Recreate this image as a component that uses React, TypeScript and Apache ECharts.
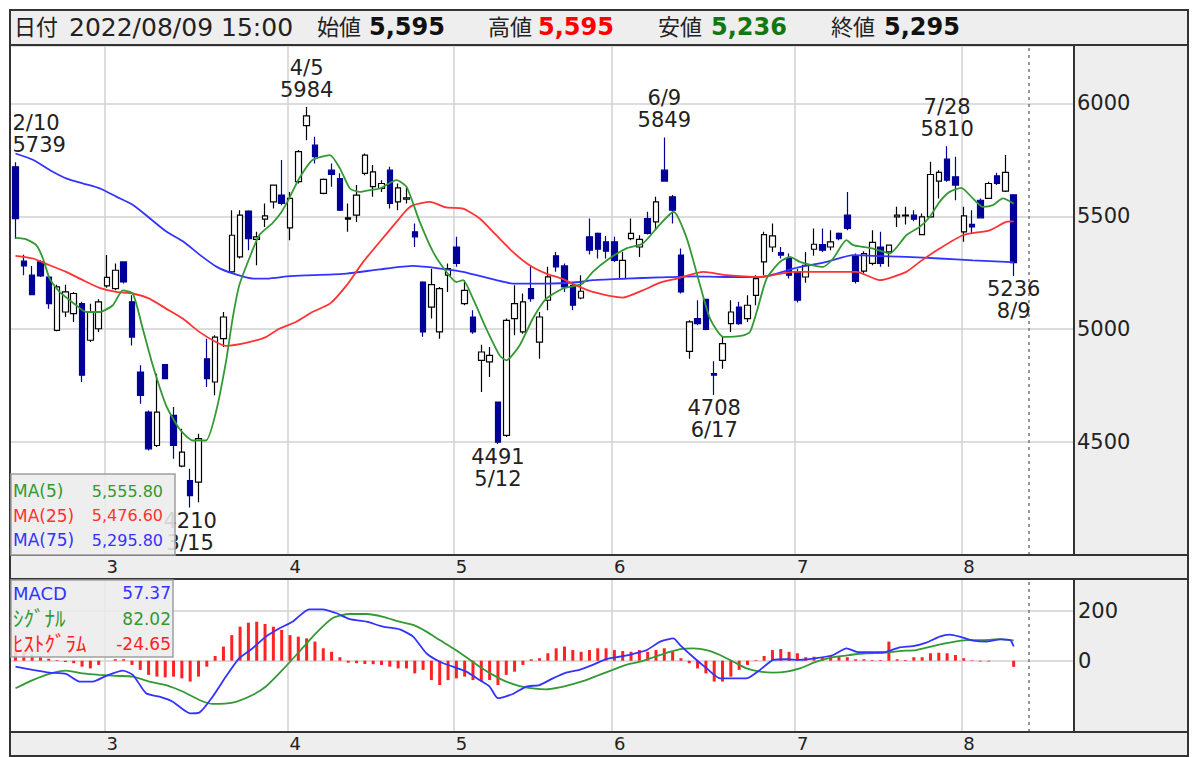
import React, { useEffect, useRef } from 'react';
import * as echarts from 'echarts';

const FONT = "'DejaVu Sans', 'Noto Sans CJK JP', sans-serif";

// ---------- data ----------
const dates = [
  '2/10','2/14','2/15','2/16','2/17','2/18','2/21','2/22','2/24','2/25','2/28',
  '3/1','3/2','3/3','3/4','3/7','3/8','3/9','3/10','3/11','3/14','3/15','3/16','3/17','3/18','3/22','3/23','3/24','3/25','3/28','3/29','3/30','3/31',
  '4/1','4/4','4/5','4/6','4/7','4/8','4/11','4/12','4/13','4/14','4/15','4/18','4/19','4/20','4/21','4/22','4/25','4/26','4/27','4/28',
  '5/2','5/6','5/9','5/10','5/11','5/12','5/13','5/16','5/17','5/18','5/19','5/20','5/23','5/24','5/25','5/26','5/27','5/30','5/31',
  '6/1','6/2','6/3','6/6','6/7','6/8','6/9','6/10','6/13','6/14','6/15','6/16','6/17','6/20','6/21','6/22','6/23','6/24','6/27','6/28','6/29','6/30',
  '7/1','7/4','7/5','7/6','7/7','7/8','7/11','7/12','7/13','7/14','7/15','7/19','7/20','7/21','7/22','7/25','7/26','7/27','7/28','7/29',
  '8/1','8/2','8/3','8/4','8/5','8/8','8/9'
];

const opens = [
  5719,5301,5239,5298,5231,4995,5076,5069,5113,4951,5002,
  5192,5180,5298,5121,4810,4633,4485,4843,4618,4394,4330,4323,4869,4766,4958,5254,5320,5523,5398,5487,5564,5594,
  5449,5653,5901,5815,5601,5704,5667,5487,5505,5690,5631,5623,5704,5564,5576,5431,5209,5098,4988,5239,
  5364,5113,5054,4862,4855,4677,4530,5047,4988,5180,4943,5128,5325,5280,5194,5138,5409,5424,5387,
  5387,5224,5401,5364,5490,5475,5704,5586,5328,4902,5047,5132,4803,4862,5025,5098,5047,5150,5298,5364,5339,5313,
  5254,5231,5354,5375,5364,5424,5505,5325,5257,5291,5364,5342,5497,5502,5505,5419,5497,5656,5753,5675,
  5431,5464,5571,5579,5679,5611,5595
];
const highs = [
  5739,5330,5280,5305,5235,5197,5197,5165,5121,5113,5132,
  5328,5291,5300,5150,4840,4640,4803,4843,4655,4559,4382,4537,4958,4973,5076,5527,5527,5527,5431,5557,5641,5749,
  5608,5793,5984,5852,5667,5734,5690,5557,5638,5778,5727,5660,5719,5645,5631,5468,5212,5268,5187,5291,
  5409,5217,5084,4931,4921,4680,5047,5194,5158,5276,5076,5276,5342,5291,5202,5239,5490,5428,5413,
  5409,5342,5490,5416,5520,5586,5849,5594,5357,5039,5128,5135,4858,4966,5128,5121,5150,5239,5431,5468,5364,5335,
  5268,5342,5446,5446,5438,5428,5608,5335,5345,5438,5431,5375,5542,5542,5527,5512,5741,5704,5810,5764,
  5542,5527,5579,5653,5693,5771,5595
];
const lows = [
  5401,5239,5150,5231,5091,4991,5054,5032,4766,4943,4988,
  5183,5172,5202,4928,4670,4463,4478,4781,4426,4389,4210,4234,4744,4707,4921,5246,5313,5350,5283,5453,5534,5549,
  5394,5645,5837,5734,5597,5631,5523,5431,5475,5682,5586,5608,5534,5527,5557,5364,4966,5047,4958,5165,
  5276,5106,4980,4722,4788,4491,4522,4973,4980,5121,4869,5084,5254,5165,5084,5132,5331,5313,5313,
  5298,5221,5394,5320,5419,5438,5653,5468,5158,4869,5017,4995,4708,4825,4988,5020,5032,5106,5239,5342,5313,5224,
  5118,5206,5325,5342,5350,5394,5438,5202,5246,5283,5276,5276,5453,5464,5478,5416,5493,5579,5653,5571,
  5387,5424,5490,5576,5638,5608,5236
];
const closes = [
  5490,5280,5153,5236,5113,5187,5165,5158,4796,5076,5121,
  5229,5261,5209,4965,4707,4470,4633,4781,4485,4456,4263,4515,4781,4965,5054,5416,5505,5401,5409,5502,5638,5557,
  5579,5786,5945,5764,5663,5685,5527,5493,5594,5771,5697,5645,5557,5626,5582,5409,4988,5197,5180,5268,
  5291,5172,4988,4899,4884,4500,5039,5113,5121,5135,5054,5232,5276,5187,5106,5168,5350,5354,5345,
  5305,5305,5424,5398,5424,5564,5656,5527,5165,5032,5025,4999,4796,4936,5076,5025,5106,5224,5419,5413,5328,5239,
  5128,5283,5376,5350,5387,5401,5446,5212,5335,5384,5291,5372,5505,5505,5487,5497,5685,5694,5660,5638,
  5502,5453,5493,5645,5645,5694,5295
];

// moving averages: [trading-day index, value]
const ma5 = [
  [0,5404],[1.3,5398],[2.5,5372],[3.3,5313],[4.1,5224],[5.3,5165],[7.3,5106],[8.5,5076],[10.1,5076],[11.7,5106],
  [12.9,5172],[14.1,5158],[15.3,5002],[16.5,4840],[18.1,4663],[19.7,4559],[21.3,4507],[22.9,4507],[24.1,4633],
  [25.3,4855],[26.1,5047],[26.9,5194],[28.1,5313],[29.3,5416],[30.9,5470],[32.0,5520],[32.9,5579],[34.1,5667],
  [35.7,5749],[37.8,5771],[39.0,5712],[40.2,5623],[41.4,5608],[42.6,5616],[43.8,5623],[45.8,5660],[47.0,5631],
  [48.6,5475],[50.2,5342],[51.8,5254],[53.0,5209],[53.8,5217],[55.0,5135],[56.6,5002],[58.2,4884],[59.0,4862],
  [60.6,4928],[62.2,5047],[63.8,5135],[65.8,5180],[67.0,5190],[68.2,5202],[69.4,5254],[71.4,5313],[73.4,5357],
  [75.4,5379],[77.4,5461],[79.1,5520],[80.7,5402],[82.3,5194],[83.5,5047],[85.1,4966],[87.5,4973],[88.3,4988],
  [89.1,5076],[90.3,5224],[91.9,5298],[93.1,5320],[94.3,5298],[95.9,5283],[97.1,5276],[98.3,5313],[99.9,5394],
  [100.7,5372],[101.9,5364],[103.1,5357],[105.1,5335],[107.1,5416],[108.7,5453],[109.9,5497],[111.1,5564],
  [112.3,5608],[113.7,5626],[115.1,5579],[116.3,5542],[117.5,5549],[118.7,5579],[120,5556]
];
const ma25 = [
  [0,5325],[2.1,5313],[4.1,5283],[6.1,5254],[8.1,5217],[10.1,5183],[12.1,5165],[14.1,5158],[16.1,5135],[18.1,5091],
  [20.1,5047],[22.1,4988],[24.1,4943],[25.3,4926],[28.1,4943],[30.1,4965],[31.7,5002],[33.7,5032],[35.7,5076],
  [37.8,5113],[39.8,5194],[41.8,5298],[43.8,5387],[45.8,5475],[47.0,5527],[47.8,5549],[49.8,5564],[51.8,5539],
  [53.8,5534],[55.8,5490],[57.8,5416],[59.8,5342],[61.8,5283],[63.8,5246],[65.6,5225],[67.4,5194],[69.4,5165],
  [73.0,5140],[75.4,5172],[77.5,5206],[79.5,5224],[82.7,5254],[85.5,5239],[89.5,5231],[93.5,5254],[97.5,5254],
  [101.1,5254],[103.9,5217],[107.1,5254],[108.7,5298],[111.1,5357],[113.9,5416],[117.1,5438],[119.1,5475],[120,5477]
];
const ma75 = [
  [0,5778],[2.15,5749],[4.15,5704],[6.16,5667],[8.16,5645],[10.16,5623],[12.17,5586],[14.17,5549],[16.18,5490],
  [18.18,5431],[20.2,5387],[22.2,5328],[24.2,5276],[26.2,5246],[28.6,5224],[30.2,5224],[33.0,5235],[35.7,5239],
  [39.8,5246],[43.8,5265],[47.8,5280],[51.8,5265],[53.8,5254],[57.8,5217],[59.8,5202],[63.8,5202],[67.8,5209],
  [69.4,5217],[73.4,5224],[77.4,5229],[81.5,5234],[85.5,5231],[89.5,5231],[91.5,5246],[93.5,5268],[97.5,5298],
  [100.7,5328],[103.1,5325],[107.1,5320],[111.1,5313],[115.1,5305],[119.1,5298],[120,5296]
];

const macdLine = [
  [0,-24],[2.07,-37],[4.07,-48],[6.08,-53],[7.68,-84],[9.28,-84],[10.9,-61],[12.9,-40],[14.1,-57],[15.7,-131],
  [17.3,-145],[18.9,-165],[21.0,-212],[22.1,-209],[23.7,-145],[25.3,-64],[26.9,10],[28.5,50],[30.1,97],[31.7,130],
  [33.3,157],[35.3,207],[36.9,207],[38.6,191],[40.2,167],[42.2,157],[44.2,137],[46.2,126],[47.8,97],[49.4,30],
  [51.0,-4],[52.6,-24],[54.2,-44],[55.8,-78],[57.0,-104],[58.0,-151],[59.8,-134],[61.4,-104],[63.0,-98],[64.6,-71],
  [66.2,-48],[67.8,-37],[69.4,-17],[71.0,6],[72.6,16],[74.2,27],[75.9,43],[77.5,77],[79.1,90],[79.9,63],[81.5,14],
  [83.1,-31],[84.7,-71],[86.3,-71],[87.9,-71],[89.5,-37],[91.1,3],[92.7,6],[94.3,3],[96.3,10],[98.3,23],[99.9,50],
  [101.1,36],[103.1,34],[104.7,36],[106.3,54],[107.9,59],[109.5,73],[111.1,97],[112.3,105],[113.5,97],[115.1,81],
  [116.8,77],[118.4,86],[119.6,83],[120,57]
];
const signalLine = [
  [0,-111],[2.07,-78],[4.07,-53],[6.08,-40],[8.08,-51],[10.1,-57],[12.1,-61],[14.1,-64],[16.1,-84],[18.1,-98],
  [20.1,-124],[22.1,-158],[23.7,-174],[26.1,-169],[28.5,-138],[30.1,-104],[32.1,-37],[34.1,36],[36.1,110],[38.1,171],
  [40.2,188],[42.2,188],[44.2,177],[46.2,157],[47.8,144],[49.4,117],[51.0,83],[52.6,50],[54.2,14],[55.8,-24],
  [57.4,-57],[59.0,-84],[60.6,-102],[62.2,-111],[63.8,-115],[65.4,-107],[67.0,-94],[68.6,-78],[70.2,-57],[71.8,-37],
  [73.4,-17],[75.1,-4],[76.7,14],[78.3,32],[79.9,47],[81.5,50],[83.1,43],[84.7,23],[86.3,-4],[87.9,-31],[89.5,-44],
  [91.1,-48],[92.7,-44],[94.3,-31],[96.3,-4],[98.3,14],[100.3,23],[102.3,30],[104.3,32],[106.3,39],[108.3,43],
  [110.3,59],[112.3,73],[114.3,83],[116.3,83],[118.4,87],[119.6,83],[120,82]
];
const histogram = [
  40,35,25,15,8,3,-5,-10,-24,-31,-17,0,6,6,-17,
  -37,-57,-64,-67,-64,-71,-84,-64,-24,19,57,103,137,153,157,148,137,124,103,97,90,77,50,36,14,-8,-10,-13,-14,-17,-24,-31,
  -31,-51,-37,-78,-98,-78,-71,-64,-78,-84,-78,-98,-57,-44,-17,6,10,30,50,57,43,36,43,50,50,43,39,36,43,36,43,50,36,10,
  -10,-31,-51,-84,-84,-64,-37,-17,3,19,43,47,36,30,
  14,16,14,19,16,14,6,6,3,3,77,6,3,14,14,30,32,30,23,10,2,-3,-3,0,0,-24.65
];

const headerDate = '2022/08/09 15:00';
const maNames = ['MA(5)', 'MA(25)', 'MA(75)'];
const maValues = ['5,555.80', '5,476.60', '5,295.80'];
const macdNames = ['MACD', 'ｼｸﾞﾅﾙ', 'ﾋｽﾄｸﾞﾗﾑ'];
const macdValues = ['57.37', '82.02', '-24.65'];
const highMarks = [0, 35, 78, 112];
const lowMarks = [21, 58, 84, 120];
const macdTicks = [0, 200];

// ---------- layout constants ----------
const X_MIN = -0.541;
const X_MAX = 127.134;
const GRID_SHIFT = -0.3;
const NOW_X = 121.85;
const GREEN = '#339933';
const RED = '#ff3333';
const BLUE = '#3333ff';
const GRID_LINE = '#d2d2d2';

const monthStarts: number[] = [];
dates.forEach((d, i) => {
  if (i > 0 && d.split('/')[0] !== dates[i - 1].split('/')[0]) monthStarts.push(i);
});
const gridValues = monthStarts.map((i) => i + GRID_SHIFT);
const monthLabel = (v: number) => {
  const i = Math.round(v - GRID_SHIFT);
  return dates[i] ? dates[i].split('/')[0] : '';
};
const fmt = (n: number) => n.toLocaleString('en-US');
const last = dates.length - 1;

function xAxisFor(gridIndex: number) {
  return {
    type: 'value',
    gridIndex,
    min: X_MIN,
    max: X_MAX,
    axisLine: { show: false },
    axisTick: { show: false, customValues: gridValues },
    splitLine: { show: true, lineStyle: { color: GRID_LINE, width: 1.5 } },
    axisLabel: {
      show: true,
      customValues: gridValues,
      formatter: (v: number) => monthLabel(v),
      color: '#222',
      fontSize: 18,
      fontFamily: FONT,
      align: 'left',
      padding: [0, 0, 0, 2],
      margin: 2,
    },
  };
}

function txt(x: number, y: number, text: string, fill: string, size: number, opts: any = {}) {
  return {
    type: 'text',
    x,
    y,
    z: opts.z ?? 100,
    silent: true,
    style: {
      text,
      fill,
      fontSize: size,
      fontFamily: FONT,
      fontWeight: opts.bold ? 'bold' : 'normal',
      align: opts.align ?? 'left',
      verticalAlign: 'middle',
    },
  };
}

function rect(x: number, y: number, w: number, h: number, style: any, z: number) {
  return { type: 'rect', z, silent: true, shape: { x, y, width: w, height: h }, style };
}
function hline(y: number, x1: number, x2: number) {
  return { type: 'line', z: 50, silent: true, shape: { x1, y1: y, x2, y2: y }, style: { stroke: '#333', lineWidth: 2 } };
}
function vline(x: number, y1: number, y2: number) {
  return { type: 'line', z: 50, silent: true, shape: { x1: x, y1, x2: x, y2 }, style: { stroke: '#333', lineWidth: 2 } };
}

function buildOption() {
  const bg = { fill: '#eeeeee' };
  const legendBox = { fill: 'rgba(236,236,236,0.88)', stroke: '#a0a0a0', lineWidth: 1.5 };
  const maColors = [GREEN, RED, BLUE];
  const macdColors = [BLUE, GREEN, '#ff2222'];

  const graphic: any[] = [
    rect(10, 10, 1178, 35, bg, -5),
    rect(1074, 45, 114, 510, bg, -5),
    rect(10, 555, 1178, 24, bg, -5),
    rect(1074, 579, 114, 153, bg, -5),
    rect(10, 732, 1178, 24, bg, -5),
    rect(10, 10, 1178, 746, { fill: 'none', stroke: '#333', lineWidth: 2 }, 50),
    hline(45, 10, 1188),
    hline(555, 10, 1188),
    hline(579, 10, 1188),
    hline(732, 10, 1188),
    vline(1074, 45, 555),
    vline(1074, 579, 732),
    // header
    txt(14, 27, '日付', '#222', 22),
    txt(69, 27, headerDate, '#222', 25),
    txt(317, 27, '始値', '#222', 22),
    txt(369, 27, fmt(opens[last]), '#111', 24, { bold: true }),
    txt(488, 27, '高値', '#222', 22),
    txt(538, 27, fmt(highs[last]), '#ff0000', 24, { bold: true }),
    txt(658, 27, '安値', '#222', 22),
    txt(711, 27, fmt(lows[last]), '#117711', 24, { bold: true }),
    txt(831, 27, '終値', '#222', 22),
    txt(884, 27, fmt(closes[last]), '#111', 24, { bold: true }),
    // MA legend box
    rect(11, 474, 164, 81, legendBox, 60),
    // MACD legend box
    rect(11, 580, 162, 77, legendBox, 60),
  ];
  maNames.forEach((n, k) => {
    graphic.push(txt(13, 491 + k * 24.5, n, maColors[k], 17, { z: 61 }));
    graphic.push(txt(163, 491 + k * 24.5, maValues[k], maColors[k], 16, { z: 61, align: 'right' }));
  });
  macdNames.forEach((n, k) => {
    graphic.push(txt(13, 593 + k * 25.5, n, macdColors[k], k === 0 ? 18 : 21, { z: 61 }));
    graphic.push(txt(171, 593 + k * 25.5, macdValues[k], macdColors[k], 17, { z: 61, align: 'right' }));
  });

  const labelBase = { color: '#222', fontSize: 21, fontFamily: FONT, lineHeight: 22 };
  const markData: any[] = [];
  highMarks.forEach((i) => {
    markData.push({
      coord: [i, highs[i]],
      label: {
        ...labelBase,
        show: true,
        position: 'top',
        distance: 6,
        align: i === 0 ? 'left' : 'center',
        offset: i === 0 ? [-3, 0] : [0, 0],
        formatter: `${dates[i]}\n${highs[i]}`,
      },
    });
  });
  lowMarks.forEach((i) => {
    markData.push({
      coord: [i, lows[i]],
      label: {
        ...labelBase,
        show: true,
        position: 'bottom',
        distance: 2,
        formatter: `${lows[i]}\n${dates[i]}`,
      },
    });
  });

  const nowLine = {
    silent: true,
    symbol: 'none',
    label: { show: false },
    lineStyle: { color: '#777', width: 1.5, type: [3, 4] },
    data: [{ xAxis: NOW_X }],
  };

  const lineSeries = (name: string, data: number[][], color: string, xi: number) => ({
    name,
    type: 'line',
    xAxisIndex: xi,
    yAxisIndex: xi,
    data,
    showSymbol: false,
    symbol: 'none',
    smooth: 0.2,
    lineStyle: { color, width: 1.8 },
    z: 3,
    silent: true,
  });

  return {
    animation: false,
    backgroundColor: '#ffffff',
    textStyle: { fontFamily: FONT },
    grid: [
      { left: 11, top: 46, width: 1062, height: 509 },
      { left: 11, top: 579, width: 1062, height: 153 },
    ],
    xAxis: [xAxisFor(0), xAxisFor(1)],
    yAxis: [
      {
        type: 'value',
        gridIndex: 0,
        position: 'right',
        min: 4000,
        max: 6254,
        interval: 500,
        axisLine: { show: false },
        axisTick: { show: false },
        splitLine: { show: true, lineStyle: { color: GRID_LINE, width: 1.5 } },
        axisLabel: {
          color: '#222', fontSize: 21, fontFamily: FONT, margin: 4,
          showMinLabel: false, showMaxLabel: false,
          formatter: (v: number) => String(v),
        },
      },
      {
        type: 'value',
        gridIndex: 1,
        position: 'right',
        min: -287,
        max: 329,
        axisLine: { show: false },
        axisTick: { show: false, customValues: macdTicks },
        splitLine: { show: true, lineStyle: { color: GRID_LINE, width: 1.5 } },
        axisLabel: {
          customValues: macdTicks, color: '#222', fontSize: 21, fontFamily: FONT, margin: 5,
          formatter: (v: number) => String(v),
        },
      },
    ],
    graphic,
    series: [
      {
        name: 'price',
        type: 'candlestick',
        xAxisIndex: 0,
        yAxisIndex: 0,
        encode: { x: 0, y: [1, 2, 3, 4] },
        data: dates.map((_, i) => [i, opens[i], closes[i], lows[i], highs[i]]),
        barWidth: 6,
        silent: true,
        itemStyle: {
          color: '#ffffff',
          color0: '#000099',
          borderColor: '#000000',
          borderColor0: '#000099',
          borderWidth: 1.2,
        },
        markPoint: { symbol: 'circle', symbolSize: 0, silent: true, data: markData },
        markLine: nowLine,
        z: 2,
      },
      lineSeries('MA(75)', ma75, BLUE, 0),
      lineSeries('MA(25)', ma25, RED, 0),
      lineSeries('MA(5)', ma5, GREEN, 0),
      {
        name: 'hist',
        type: 'bar',
        xAxisIndex: 1,
        yAxisIndex: 1,
        data: histogram.map((v, i) => [i, v]),
        barWidth: 3,
        silent: true,
        itemStyle: { color: '#ff2222' },
        markLine: nowLine,
        z: 2,
      },
      lineSeries('signal', signalLine, GREEN, 1),
      lineSeries('MACD', macdLine, BLUE, 1),
    ],
  };
}

export default function App() {
  const ref = useRef<HTMLDivElement>(null);
  useEffect(() => {
    document.body.style.margin = '0';
    if (!ref.current) return;
    const chart = echarts.init(ref.current, null, { renderer: 'svg' });
    chart.setOption(buildOption() as any);
    return () => chart.dispose();
  }, []);
  return <div ref={ref} style={{ position: 'absolute', left: 0, top: 0, width: 1200, height: 757 }} />;
}
